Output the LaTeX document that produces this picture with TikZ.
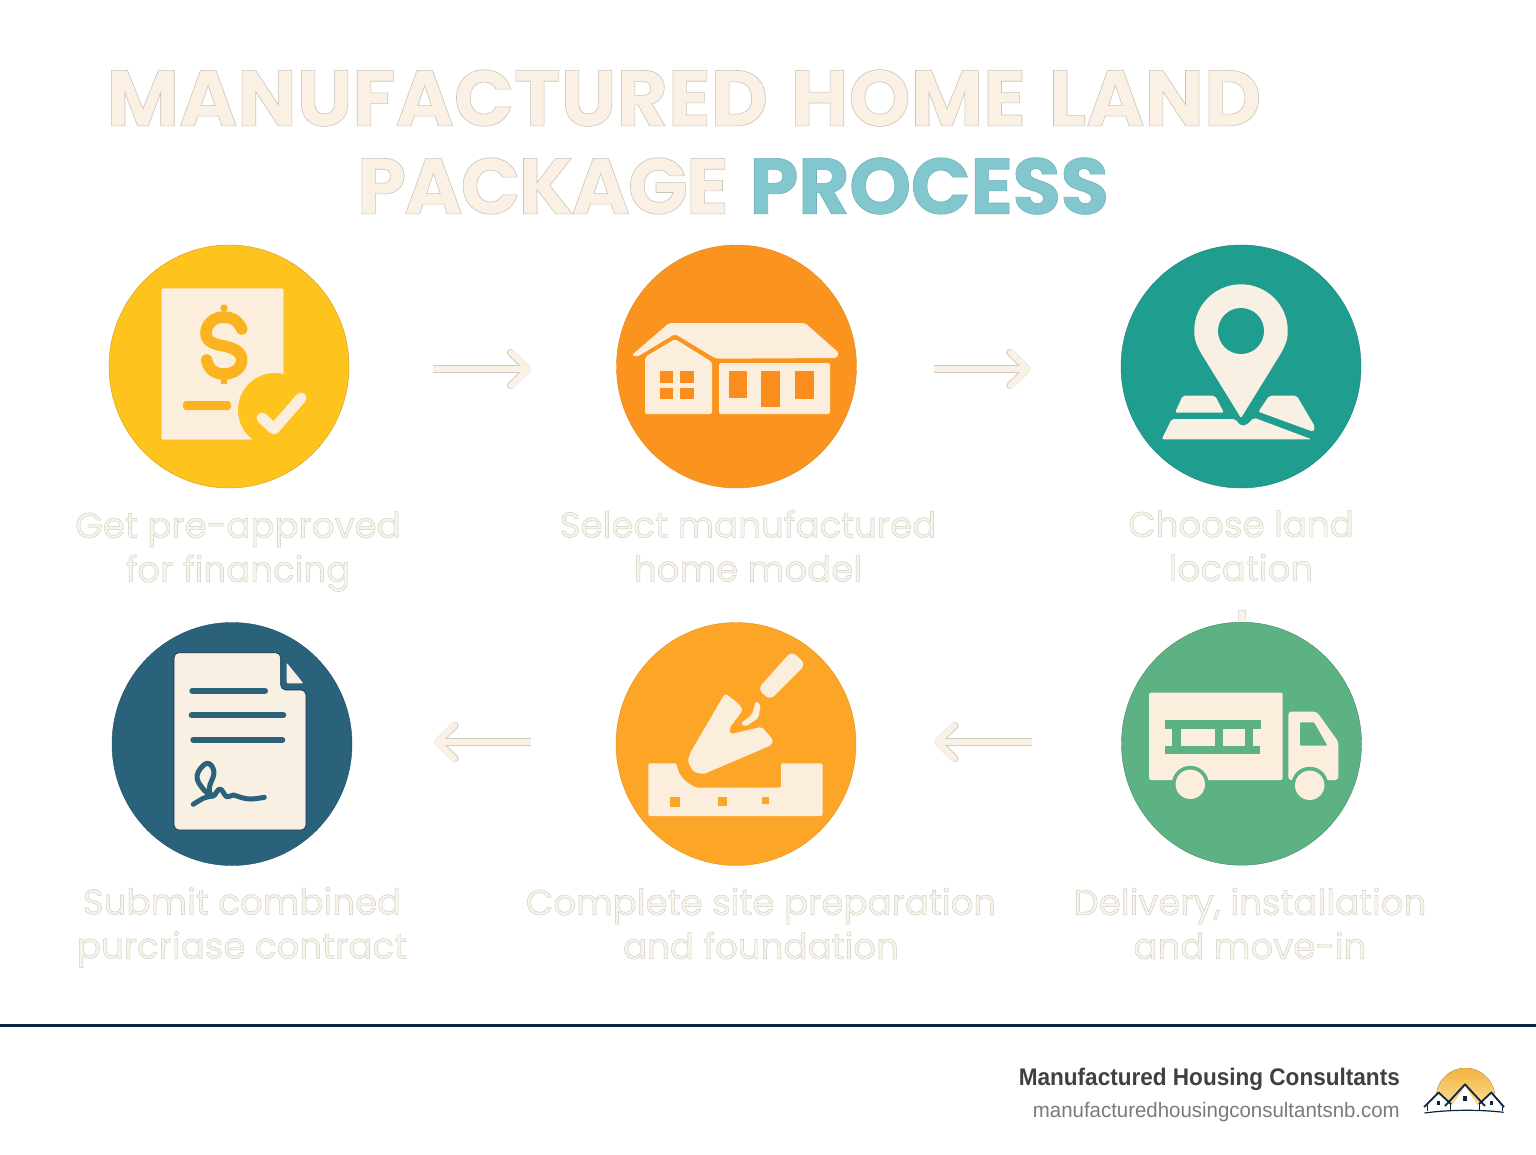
\documentclass[tikz,border=0pt]{standalone}
\usepackage{fontspec}
\usepackage{tikz}
\usetikzlibrary{arrows.meta, shapes.geometric}
\setmainfont{Poppins}
\newfontfamily\brandfont[FakeStretch=.94]{Liberation Sans}
\newfontfamily\sitefont[FakeStretch=.973]{Liberation Sans}
\definecolor{cream}{HTML}{FAF0E4}
\definecolor{palecream}{HTML}{F9F4EA}
\definecolor{warmcream}{HTML}{FCEEDD}
\definecolor{coolcream}{HTML}{F7F0E3}
\definecolor{tealtext}{HTML}{82C7CE}
\definecolor{edgegray}{HTML}{CFCCC4}
\definecolor{yellowdisc}{HTML}{FFC31E}
\definecolor{yellowmark}{HTML}{FBB31F}
\definecolor{orangedisc}{HTML}{FA941F}
\definecolor{tealdisc}{HTML}{1F9E8F}
\definecolor{greendisc}{HTML}{5DB283}
\definecolor{amberdisc}{HTML}{FCA526}
\definecolor{navydisc}{HTML}{2A617B}
\definecolor{navyline}{HTML}{0B2545}
\definecolor{sungold}{HTML}{F2B33D}
\definecolor{sunpale}{HTML}{FBDD96}
\newcommand{\strokedtext}[3]{\special{pdf:code q 2 Tr #1 w #2 RG}#3\special{pdf:code Q}}
\newcommand{\creamtext}[1]{\strokedtext{.6}{.78 .77 .73}{#1}}
\newcommand{\labeltext}[1]{\strokedtext{.45}{.8 .8 .76}{#1}}
\tikzset{
  stepdisc/.style={ellipse, inner sep=0pt, minimum width=240pt, minimum height=243pt},
  steplabel/.style={text=palecream, align=center, inner sep=0pt, font=\fontsize{35.6}{44}\selectfont},
  titleline/.style={text=cream, inner sep=0pt, font=\fontsize{79}{88}\selectfont\bfseries},
  steparrow/.style={
    preaction={draw=edgegray, line width=7.4pt, -{Straight Barb[length=17pt, width=33pt, line width=7.4pt, round]}},
    draw=cream, line width=6.2pt, -{Straight Barb[length=17pt, width=33pt, line width=6.2pt, round]}},
  iconfill/.style={fill=warmcream, rounded corners=2pt},
  logoroof/.style={navyline, fill=white, line width=1.8pt, line join=round},
  logowall/.style={navyline, line width=1pt},
}
\begin{document}
\begin{tikzpicture}[x=1pt, y=-1pt]
  \useasboundingbox (0,0) rectangle (1536,1154);

  \node (t1) [titleline] at (684,98) {\creamtext{MANUFACTURED\hspace{6pt} HOME\hspace{6pt} LAND}};
  \node (t2) [titleline] at (733,186) {\creamtext{\addfontfeature{LetterSpace=-2.6}PACKAGE}\hspace{6pt} \textcolor{tealtext}{\strokedtext{.6}{.45 .7 .74}{\addfontfeature{LetterSpace=-.7}PROCESS}}};

  \node (1) [stepdisc, fill=yellowdisc, draw=yellowdisc!80!black] at (229,366.5) {};
  \node (2) [stepdisc, fill=orangedisc, draw=orangedisc!90!black] at (736.5,366.5) {};
  \node (3) [stepdisc, fill=tealdisc, draw=tealdisc!80!black] at (1241,366.5) {};
  \node (4) [stepdisc, fill=greendisc, draw=greendisc!75!black] at (1241.5,743.7) {};
  \node (5) [stepdisc, fill=amberdisc, draw=amberdisc!90!black] at (736,744) {};
  \node (6) [stepdisc, fill=navydisc, draw=navydisc!80!black] at (232,744) {};

  \node (l1) [steplabel] at (238,551.5) {\labeltext{Get pre-approved}\\\labeltext{for financing}};
  \node (l2) [steplabel] at (748,546) {\labeltext{Select manufactured}\\\labeltext{home model}};
  \node (l3) [steplabel] at (1241,546) {\labeltext{Choose land}\\\labeltext{location}};
  \node (l4) [steplabel] at (1250,923.5) {\labeltext{Delivery, installation}\\\labeltext{and move-in}};
  \node (l5) [steplabel] at (761,923.5) {\labeltext{Complete site preparation}\\\labeltext{and foundation}};
  \node (l6) [steplabel] at (242,927.5) {\labeltext{Submit combined}\\\labeltext{purcriase contract}};

  \draw [steparrow, shorten <=84pt, shorten >=85pt] ([yshift=-2.5pt]1.east) -- ([yshift=-2.5pt]2.west);
  \draw [steparrow, shorten <=77pt, shorten >=90pt] ([yshift=-2.5pt]2.east) -- ([yshift=-2.5pt]3.west);
  \draw [steparrow, shorten <=89pt, shorten >=78pt] ([yshift=1.7pt]4.west) -- ([yshift=2pt]5.east);
  \draw [steparrow, shorten <=85pt, shorten >=82pt] ([yshift=2pt]5.west) -- ([yshift=2pt]6.east);

  \draw [iconfill, draw=yellowmark, line width=.6pt] (161,288) rectangle (284,440);
  \fill [yellowdisc] (275,410) circle (37);
  \draw [yellowmark, line width=11.5pt, line cap=round] (241.7,329) .. controls (238,320) and (231,317) .. (224,317) .. controls (214,317) and (206,324) .. (206,333) .. controls (206,342) and (214,344) .. (224,346) .. controls (234,348) and (241.7,352) .. (241.7,360) .. controls (241.7,368) and (234,374) .. (224,374) .. controls (215,374) and (208,369) .. (206.7,360);
  \fill [yellowmark] (224,308) circle (3.7);
  \fill [yellowmark] (220.6,374) rectangle (227.4,384);
  \fill [yellowmark, rounded corners=3pt] (183,401) rectangle (231,410);
  \draw [warmcream, line width=11pt, line cap=round, line join=round] (262,418) -- (274,429) -- (301,398);

  \fill [iconfill] (632,355) -- (669,323) -- (805,323) -- (839,353) -- (837,358) -- (716,358.7) -- (675,334) -- (637,357) -- cycle;
  \fill [iconfill] (645,357) -- (675,339) -- (712,362) -- (712,414) -- (645,414) -- cycle;
  \fill [iconfill] (719,363) rectangle (830,414);
  \fill [orangedisc!95!red] (660,371) rectangle (672.7,382.7);
  \fill [orangedisc!95!red] (680,371) rectangle (694.3,382.7);
  \fill [orangedisc!95!red] (660,388.3) rectangle (672.7,399);
  \fill [orangedisc!95!red] (680,388.3) rectangle (694.3,399);
  \fill [orangedisc!95!red] (729,371) rectangle (746.7,397.7);
  \fill [orangedisc!95!red] (761,371) rectangle (780,407.3);
  \fill [orangedisc!95!red] (795,371) rectangle (814,399);

  \fill [iconfill, fill=coolcream, rounded corners=1pt] (1241,418) -- (1204,358) .. controls (1197,347) and (1194.3,340) .. (1194.3,331) arc (180:360:46.7) .. controls (1287.7,340) and (1285,347) .. (1278,358) -- cycle;
  \fill [tealdisc] (1241,331) circle (23);
  \fill [iconfill, fill=coolcream] (1182.7,395.7) -- (1215,395.7) -- (1224,412.7) -- (1175,412.7) -- cycle;
  \fill [iconfill, fill=coolcream] (1269.3,395.7) -- (1296.7,395.7) -- (1315,426.7) -- (1313.3,431.7) -- (1258.3,411.7) -- cycle;
  \fill [iconfill, fill=coolcream] (1171.7,419) -- (1235,419) -- (1240.7,425.7) -- (1246.7,425) -- (1254,417.7) -- (1311.7,439.3) -- (1161.7,439.3) -- cycle;

  \draw [draw=edgegray, fill=palecream, line width=.5pt, rounded corners=1pt] (1238.5,621) -- (1238.5,610) -- (1245.5,610) -- (1246,621);
  \fill [iconfill] (1149,692.7) rectangle (1282.7,780);
  \fill [iconfill, rounded corners=3pt] (1288.3,711.7) -- (1316.7,711.7) -- (1338.3,741.7) -- (1338.3,780) -- (1288.3,780) -- cycle;
  \fill [greendisc] (1190.3,784.3) circle (18.5);
  \fill [greendisc] (1309.7,785.3) circle (18.5);
  \fill [warmcream] (1190.3,784.3) circle (14.7);
  \fill [warmcream] (1309.7,785.3) circle (14.7);
  \fill [greendisc] (1165,720) rectangle (1261,729);
  \fill [greendisc] (1165,745.7) rectangle (1260,754.3);
  \fill [greendisc] (1172.3,729) rectangle (1181,745.7);
  \fill [greendisc] (1215.3,729) rectangle (1222.7,745.7);
  \fill [greendisc] (1245,729) rectangle (1253.3,745.7);
  \fill [greendisc, rounded corners=1pt] (1300,722.3) -- (1314,722.3) -- (1327.3,745.7) -- (1300,745.7) -- cycle;

  \fill [iconfill, rounded corners=6pt] (791.7,651) -- (805.7,664.3) -- (770,700) -- (757.7,689) -- cycle;
  \fill [iconfill, rounded corners=3pt] (725,693.3) -- (738.3,703.3) -- (743,710) -- (729.3,728.3) -- (730,734.3) -- (761.7,726.7) -- (773.3,740) -- (771.7,745) -- (703.3,774.3) -- (693.3,771.7) -- (687.7,761.7) -- (690,753.3) -- cycle;
  \fill [iconfill] (756,701) -- (760.7,705) -- (758.3,718.3) -- (745,726.7) -- (740.7,723.3) -- (751.7,715) -- cycle;
  \fill [iconfill] (648.3,763.3) -- (676.7,763.3) .. controls (678,775) and (686,783) .. (696.7,787.7) -- (781,787.7) -- (781,763.3) -- (822.7,763.3) -- (822.7,816) -- (648.3,816) -- cycle;
  \fill [amberdisc] (670,797.3) rectangle (680,806.7);
  \fill [amberdisc] (718.3,797.3) rectangle (726.7,806);
  \fill [amberdisc] (762.3,797.3) rectangle (769.3,804.3);

  \draw [fill=coolcream, draw=navyline, line width=.6pt, rounded corners=5pt] (174,652.7) -- (280.7,652.7) -- (280.7,690) -- (306,690) -- (306,830) -- (174,830) -- cycle;
  \fill [coolcream, rounded corners=1pt] (286.7,662.7) -- (303.3,683.3) -- (286.7,683.3) -- cycle;
  \draw [navydisc, line width=6pt, line cap=round] (192.3,690.7) -- (265,690.7);
  \draw [navydisc, line width=6pt, line cap=round] (191.7,715.3) -- (283.3,715.3);
  \draw [navydisc, line width=6pt, line cap=round] (193.3,739.7) -- (282.3,739.7);
  \draw [navydisc, line width=5pt, line cap=round, line join=round] plot [smooth, tension=.6] coordinates {(193.3,804.3) (204,798) (213,796)};
  \draw [navydisc, line width=5pt, line cap=round, line join=round] plot [smooth, tension=.7] coordinates {(213,796) (204,790) (197,776) (206.7,763.3) (214,772) (209.3,788) (213,796) (220,789) (226.7,796.7) (233.3,795) (241.7,797.7) (251.7,799) (264.3,797.3)};

  \draw [navyline, line width=3pt] (0,1025.5) -- (1536,1025.5);
  \node (brand) [anchor=east, inner sep=0pt, text=black!75, font=\brandfont\fontsize{24}{28}\selectfont\bfseries] at (1400,1079.5) {Manufactured Housing Consultants};
  \node (site) [anchor=east, inner sep=0pt, text=black!52, font=\sitefont\fontsize{21}{25}\selectfont] at (1400,1112.5) {manufacturedhousingconsultantsnb.com};

  \fill [top color=sungold, bottom color=sunpale] (1436,1097.5) arc (180:360:29.5) -- (1495,1106) -- (1436,1106) -- cycle;
  \fill [white] (1427,1106) -- (1438.6,1093) -- (1452,1106) -- (1465,1086) -- (1478,1106) -- (1491.3,1093) -- (1502,1106) -- (1502,1111) -- (1427,1111) -- cycle;
  \draw [logoroof, fill=none] (1424,1107) -- (1438.6,1092.5) -- (1451,1104);
  \draw [logoroof, fill=none] (1504,1107) -- (1491.3,1092.5) -- (1479,1104);
  \draw [logoroof, fill=none] (1445,1106) -- (1465,1084.3) -- (1485,1106);
  \draw [logowall] (1427.4,1105) -- (1427.4,1111);
  \draw [logowall] (1450.6,1104) -- (1450.6,1110);
  \draw [logowall] (1479.7,1104) -- (1479.7,1110);
  \draw [logowall] (1502.6,1105) -- (1502.6,1111);
  \draw [logoroof, fill=none, line width=1.2pt] (1424.5,1113) .. controls (1450,1109.5) and (1480,1109.5) .. (1503.6,1112.3);
  \fill [navyline] (1437.3,1100.5) rectangle (1440.3,1105);
  \fill [navyline] (1463.3,1095.5) rectangle (1466.7,1100.5);
  \fill [navyline] (1489.8,1100.5) rectangle (1492.8,1105);
\end{tikzpicture}
\end{document}
